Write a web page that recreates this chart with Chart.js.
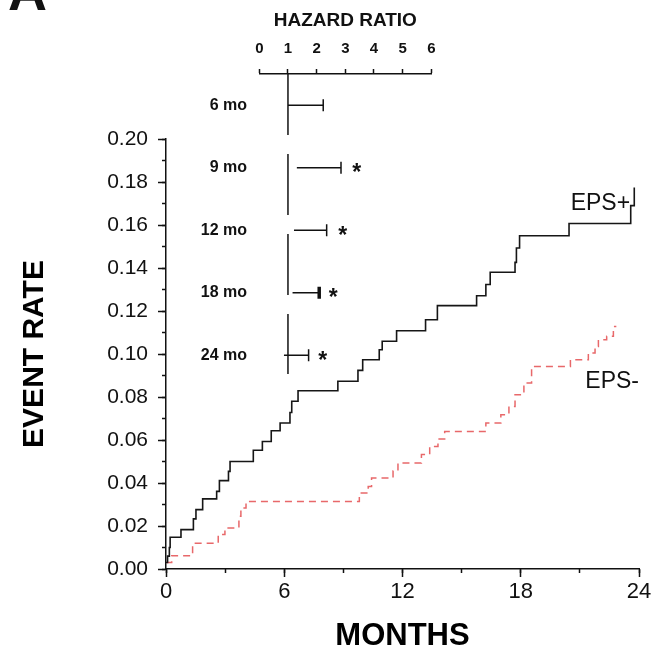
<!DOCTYPE html>
<html>
<head>
<meta charset="utf-8">
<title>Event rate, EPS+ vs EPS-</title>
<script src="https://cdn.jsdelivr.net/npm/chart.js@4.4.1/dist/chart.umd.min.js"></script>
<style>
  body { margin: 0; background: #fff; }
  #wrap { position: relative; width: 655px; height: 652px; }
  #wrap canvas { position: absolute; left: 0; top: 0; }
</style>
</head>
<body>
<div id="wrap">
  <canvas id="km" width="655" height="652"></canvas>
  <canvas id="hr" width="655" height="652"></canvas>
</div>
<script>
// Kaplan-Meier style event curves (months -> cumulative event rate)
const seriesNames = ['EPS+', 'EPS-'];
const epsPosMonths = [0, 0.08, 0.17, 0.21, 0.76, 1.39, 1.52, 1.86, 2.57, 2.71, 3.17, 3.25, 4.43, 4.89, 5.34, 5.79,
  6.29, 6.38, 6.70, 8.72, 9.74, 9.98, 10.82, 10.97, 11.70, 13.17, 13.77, 15.76, 16.23, 16.45, 17.71, 17.78, 17.94,
  20.45, 23.58, 23.76];
const epsPosRate = [0.003, 0.006, 0.010, 0.0148, 0.0183, 0.0233, 0.0276, 0.0326, 0.0361, 0.0411, 0.0454, 0.050, 0.0552,
  0.0593, 0.0643, 0.0679, 0.0728, 0.078, 0.0829, 0.0873, 0.0924, 0.0973, 0.102, 0.1059, 0.1108, 0.1159, 0.1225,
  0.1271, 0.1323, 0.138, 0.1426, 0.1493, 0.155, 0.1607, 0.169, 0.1774];
const epsNegMonths = [0, 0.29, 1.35, 2.65, 2.99, 3.70, 3.80, 4.06, 9.81, 10.26, 10.43, 11.52, 11.77, 12.96, 13.38,
  13.80, 14.14, 16.23, 16.99, 17.40, 17.71, 18.16, 18.55, 20.52, 21.43, 21.77, 21.94, 22.36, 22.70, 22.85];
const epsNegRate = [0.003, 0.0062, 0.012, 0.016, 0.0191, 0.0245, 0.0284, 0.0314, 0.0353, 0.0384, 0.0423, 0.0456,
  0.0493, 0.0532, 0.057, 0.0605, 0.064, 0.0679, 0.0718, 0.0756, 0.0811, 0.0865, 0.0942, 0.0973, 0.1005, 0.1035,
  0.1066, 0.1082, 0.1128, 0.1128];

// hazard ratio inset (one row per landmark)
const rowLabels = ['6 mo', '9 mo', '12 mo', '18 mo', '24 mo'];
const hrLow = [1.0, 1.31, 1.21, 1.16, 0.86];
const hrHigh = [2.23, 2.85, 2.35, 2.09, 1.72];
const starAt = [null, 3.40, 2.91, 2.58, 2.21];

const FONT = '"Liberation Sans", Arial, Helvetica, sans-serif';
Chart.defaults.font.family = FONT;
Chart.defaults.color = '#111';

const pts = (xs, ys) => xs.map((x, i) => ({ x, y: ys[i] }));
const INK = '#111';

const curveLabels = {
  id: 'curveLabels',
  afterDatasetsDraw(chart) {
    const { ctx, scales: { x, y } } = chart;
    ctx.save();
    ctx.font = '23px ' + FONT;
    ctx.fillStyle = INK;
    ctx.textAlign = 'right';
    ctx.textBaseline = 'middle';
    ctx.fillText(seriesNames[0], x.getPixelForValue(23.55), y.getPixelForValue(0.1697));
    ctx.fillText(seriesNames[1], x.getPixelForValue(24), y.getPixelForValue(0.087));
    ctx.restore();
  }
};

new Chart(document.getElementById('km'), {
  type: 'line',
  data: {
    datasets: [
      { label: seriesNames[0], data: pts(epsPosMonths, epsPosRate), stepped: 'before',
        borderColor: '#161616', borderWidth: 1.6, pointRadius: 0, borderJoinStyle: 'miter' },
      { label: seriesNames[1], data: pts(epsNegMonths, epsNegRate), stepped: 'before',
        borderColor: '#e8686a', borderWidth: 1.5, borderDash: [7, 5], pointRadius: 0 }
    ]
  },
  options: {
    responsive: false, animation: false, events: [], devicePixelRatio: 1,
    layout: { padding: { left: 0, right: 16, top: 139, bottom: 0 } },
    plugins: { legend: { display: false }, tooltip: { enabled: false } },
    scales: {
      x: {
        type: 'linear', min: 0, max: 24, weight: 1,
        ticks: { stepSize: 6, font: { size: 22 }, padding: 2, color: INK },
        grid: { drawOnChartArea: false, tickLength: 8, color: INK, tickWidth: 1.5 },
        border: { color: INK, width: 1.5 },
        title: { display: true, text: 'MONTHS', color: '#000',
          font: { size: 31, weight: 'bold', lineHeight: 1 }, padding: { top: 0, bottom: 0.5 } },
        afterFit: s => { s.height = 83; }
      },
      xMinor: {
        type: 'linear', position: 'bottom', min: 0, max: 24, weight: 0,
        ticks: { stepSize: 3, display: false },
        grid: { drawOnChartArea: false, tickLength: 4, color: INK, tickWidth: 1.5 },
        border: { display: false },
        afterFit: s => { s.height = 0; }
      },
      y: {
        type: 'linear', min: 0, max: 0.2, weight: 1,
        ticks: { stepSize: 0.02, font: { size: 21 }, padding: 10, color: INK, callback: v => v.toFixed(2) },
        grid: { drawOnChartArea: false, tickLength: 8, color: INK, tickWidth: 1.5 },
        border: { color: INK, width: 1.5 },
        title: { display: true, text: 'EVENT RATE', color: '#000',
          font: { size: 30, weight: 'bold', lineHeight: 1 }, padding: { top: 20, bottom: 0 } },
        afterFit: s => { s.width = 166; }
      },
      yMinor: {
        type: 'linear', position: 'left', min: 0, max: 0.2, weight: 0,
        ticks: { stepSize: 0.01, display: false },
        grid: { drawOnChartArea: false, tickLength: 4, color: INK, tickWidth: 1.5 },
        border: { display: false },
        afterFit: s => { s.width = 0; }
      }
    }
  },
  plugins: [curveLabels]
});

// stars for significant rows, plus the clipped panel letter at the top
const hrMarks = {
  id: 'hrMarks',
  afterDatasetsDraw(chart) {
    const { ctx, scales: { x, y } } = chart;
    ctx.save();
    ctx.fillStyle = INK;
    ctx.font = 'bold 23px ' + FONT;
    ctx.textAlign = 'center';
    ctx.textBaseline = 'alphabetic';
    starAt.forEach((v, i) => {
      if (v == null) return;
      ctx.fillText('*', x.getPixelForValue(v), y.getPixelForValue(i) + 12.5);
    });
    ctx.font = 'bold 54px ' + FONT;
    ctx.textAlign = 'left';
    ctx.fillText('A', 8, 10);
    ctx.restore();
  }
};

new Chart(document.getElementById('hr'), {
  type: 'line',
  data: {
    datasets: [
      { data: [{ x: 1, y: -0.5 }, { x: 1, y: 4.3 }], borderColor: INK, borderWidth: 1.5,
        borderDash: [61, 19], pointRadius: 0 },
      ...rowLabels.map((r, i) => ({
        label: r,
        data: [{ x: hrLow[i], y: i }, { x: hrHigh[i], y: i }],
        borderColor: INK, borderWidth: 1.5,
        pointStyle: 'line', pointRotation: 90, pointRadius: [0, 6],
        pointBorderColor: INK, pointBorderWidth: [0, i === 3 ? 3.5 : 1.5]
      }))
    ]
  },
  options: {
    responsive: false, animation: false, events: [], devicePixelRatio: 1,
    layout: { padding: { left: 0, right: 223.7, top: 0, bottom: 265.5 } },
    plugins: { legend: { display: false }, tooltip: { enabled: false } },
    scales: {
      x: {
        type: 'linear', position: 'top', min: 0, max: 6,
        ticks: { stepSize: 1, font: { size: 15, weight: 'bold' }, padding: 11, color: INK },
        grid: { drawOnChartArea: false, tickLength: 5, color: INK, tickWidth: 1.5 },
        border: { color: INK, width: 1.5 },
        title: { display: true, text: 'HAZARD RATIO', color: INK,
          font: { size: 19, weight: 'bold', lineHeight: 1 }, padding: { top: 11.5, bottom: 0 } },
        afterFit: s => { s.height = 74; }
      },
      y: {
        type: 'linear', reverse: true, min: -0.5, max: 4.5,
        afterBuildTicks: s => { s.ticks = rowLabels.map((_, i) => ({ value: i })); },
        ticks: { font: { size: 16, weight: 'bold' }, padding: 12.3, color: INK, callback: v => rowLabels[v] },
        grid: { display: false, drawTicks: false },
        border: { display: false },
        afterFit: s => { s.width = 259.3; }
      }
    }
  },
  plugins: [hrMarks]
});
</script>
</body>
</html>
